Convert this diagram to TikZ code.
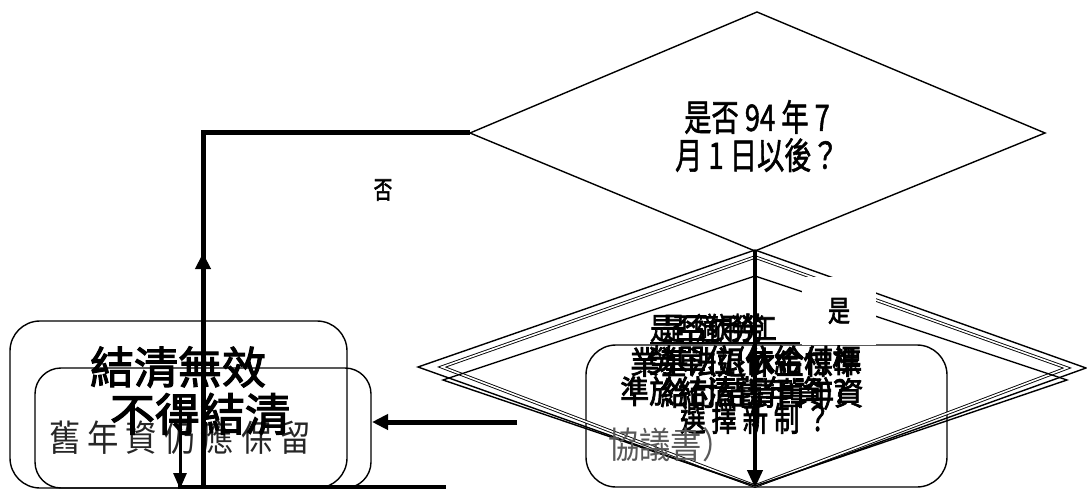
\documentclass[tikz,border=0pt]{standalone}
\usepackage{fontspec}
\newfontfamily\cjk{Noto Sans CJK TC}
\newfontfamily\cjkb[FakeBold=2.5]{Noto Sans CJK TC}
\newfontfamily\cjkm[FakeBold=1.6]{Noto Sans CJK TC}
\newcommand{\tallt}[1]{\scalebox{0.88}[1.18]{#1}}
\newcommand{\widet}[1]{\scalebox{1.0}[1.1]{#1}}
\usetikzlibrary{arrows.meta}
\tikzset{
  thinline/.style={line width=1.4pt},
  heavy/.style={line width=5pt},
  heavyarrow/.style={line width=5pt,-{Triangle[length=16pt,width=15pt]}},
  midarrow/.style={line width=3pt,-{Triangle[length=16pt,width=13pt]}},
  lbl/.style={inner sep=0pt},
  boxr/.style={thinline,rounded corners=30pt},
  rtext/.style={lbl,anchor=west,font=\cjkb\fontsize{29}{30}\selectfont},
}
\begin{document}
\begin{tikzpicture}[x=1pt,y=-1pt]
\useasboundingbox (0,0) rectangle (1087,489);
% coordinates
\coordinate (t1) at (757,12);
\coordinate (t2) at (1045,133);
\coordinate (t3) at (755,251);
\coordinate (t4) at (470,133);
\coordinate (c1) at (203,133);
\coordinate (c2) at (203,487);
\coordinate (c3) at (203,253);
\coordinate (b1) at (178,487);
\coordinate (b2) at (446,487);
\coordinate (d1) at (180,395);
\coordinate (d2) at (180,489);
\coordinate (a1) at (517,422);
\coordinate (a2) at (372,422);
\coordinate (v1) at (755,251);
\coordinate (v2) at (755,488);
% lower diamonds
\coordinate (A1) at (755,250); \coordinate (A2) at (1086,368);
\coordinate (A3) at (755,487); \coordinate (A4) at (418,367);
\coordinate (B1) at (755,257); \coordinate (B2) at (1067,368);
\coordinate (B3) at (755,486); \coordinate (B4) at (442,367);
\coordinate (C1) at (755,276); \coordinate (C2) at (1067,380);
\coordinate (C3) at (755,486); \coordinate (C4) at (443,380);

% top diamond
\draw[thinline] (t1) -- (t2) -- (t3) -- (t4) -- cycle;
\node[lbl,align=center,font=\cjkm\fontsize{31}{38}\selectfont] (q1) at (757,136) {\tallt{是否 94 年 7}\\\tallt{月 1 日以後？}};
\node[lbl,font=\cjkb\fontsize{21}{24}\selectfont] (no) at (383,190) {\tallt{否}};

% rounded boxes
\draw[boxr] (10,321) rectangle (347,488);
\draw[boxr,rounded corners=26pt] (35,368) rectangle (371,488);
\draw[boxr] (586,345) rectangle (947,487);

% lower diamonds
\draw[thinline] (A1) -- (A2) -- (A3) -- (A4) -- cycle;
\draw[line width=0.9pt,double,double distance=1.6pt] (B1) -- (B2) -- (B3) -- (B4) -- cycle;
\draw[thinline] (C1) -- (C2) -- (C3) -- (C4) -- cycle;

% left texts
\node[lbl,font=\cjkb\fontsize{44}{48}\selectfont] (r1) at (178,367) {結清無效};
\node[lbl,font=\cjk\fontsize{33}{38}\selectfont,text=black!85] (r3) at (180,437) {\scalebox{0.95}[1.1]{舊 年 資 仍 應 保 留}};
\node[lbl,font=\cjkb\fontsize{45}{48}\selectfont] (r2) at (200,414) {不得結清};

% right overlapping texts
\node[rtext,font=\cjkb\fontsize{26}{30}\selectfont] (s1a) at (650,328) {\tallt{是否適用勞}};
\node[rtext,font=\cjkb\fontsize{26}{30}\selectfont] (s1b) at (662,328) {\tallt{是否依勞工}};
\draw[line width=1.4pt] (650,343) -- (800,343);
\node[rtext] (s2a) at (630,362) {\widet{業基法退休金標準}};
\node[rtext] (s2b) at (648,362) {\widet{勞單位(依給付標}};
\node[rtext] (s3a) at (620,393) {\widet{準於結清舊年資)?}};
\node[rtext] (s3b) at (660,393) {\widet{給付結清舊年資}};
\node[rtext,font=\cjkb\fontsize{29}{32}\selectfont] (s4) at (680,418) {\tallt{選 擇 新 制 ？}};
\node[lbl,anchor=west,font=\cjk\fontsize{33}{36}\selectfont,text=black!65] (s5) at (608,445) {\scalebox{0.95}[1.1]{協議書）}};

% connectors
\draw[heavy] (t4) -- (c1) -- (c2);
\draw[heavyarrow] (c2) -- (c3);
\draw[line width=4pt] (b1) -- (b2);
\draw[midarrow] (d1) -- (d2);
\draw[heavyarrow] (a1) -- (a2);
\draw[line width=4pt,-{Triangle[length=18pt,width=15pt]}] (v1) -- (v2);

% yes label
\node[fill=white,minimum width=74pt,minimum height=68pt,inner sep=0pt,font=\cjkb\fontsize{25}{26}\selectfont] (yes) at (839,311) {\tallt{是}};
\end{tikzpicture}
\end{document}
